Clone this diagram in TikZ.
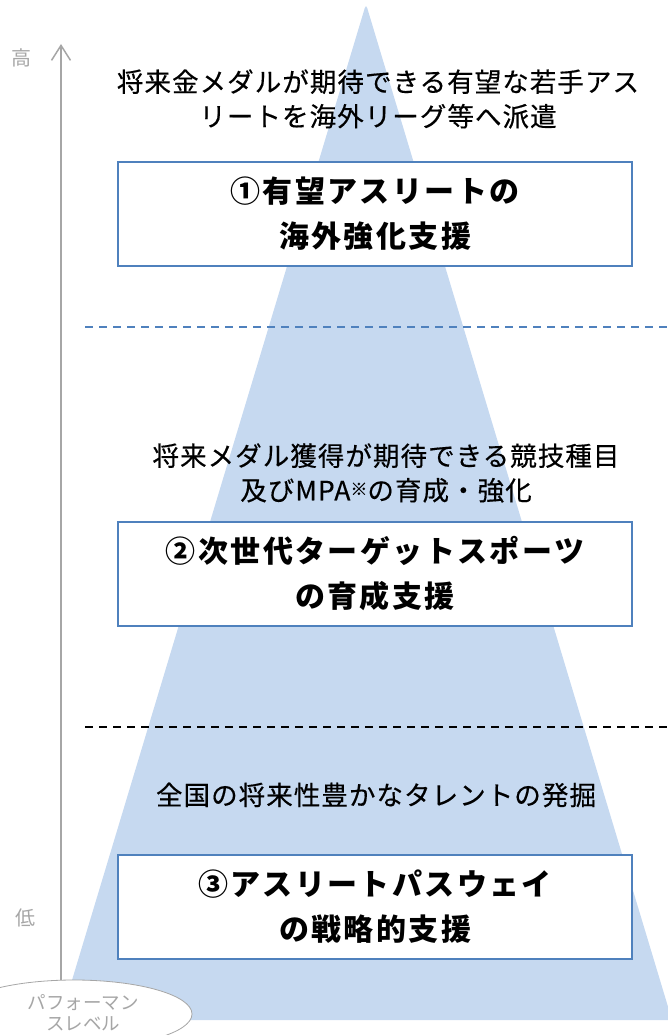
\documentclass[tikz,border=0pt]{standalone}
\usepackage{fontspec}
\usetikzlibrary{arrows.meta,shapes.geometric}
\newfontfamily\jpn[LetterSpace=4,FakeBold=0.4]{Noto Sans CJK JP}
\newfontfamily\jpbold[LetterSpace=8]{Noto Sans CJK JP}
\newfontfamily\jpgray{Noto Sans CJK JP}
\definecolor{trifill}{RGB}{198,217,240}
\definecolor{boxblue}{RGB}{79,129,189}
\definecolor{axisgray}{RGB}{166,166,166}
\tikzset{
  desc/.style={inner sep=0pt, align=center, text=black, font=\jpn\fontsize{26.5}{34.5}\selectfont},
  mainbox/.style={draw=boxblue, line width=1.8pt, fill=white, minimum width=514pt, minimum height=104pt, inner sep=0pt, align=center, font=\jpbold\bfseries\fontsize{30}{45}\selectfont},
  sep/.style={line width=1.8pt, dash pattern=on 8pt off 6pt},
  axislabel/.style={inner sep=0pt, text=axisgray, font=\jpgray\fontsize{20}{22}\selectfont},
}
\begin{document}
\begin{tikzpicture}[x=1pt,y=-1pt]
\useasboundingbox (0,0) rectangle (668,1035);
\begin{scope}
\clip (0,0) rectangle (668,1035);
% pyramid
\fill[trifill, rounded corners=4pt] (366,4) -- (672,1020) -- (60,1020) -- cycle;
% separators
\coordinate (s1a) at (85,327); \coordinate (s1b) at (668,327);
\coordinate (s2a) at (85,727); \coordinate (s2b) at (668,727);
\draw[sep, draw=boxblue] (s1a) -- (s1b);
\draw[sep, draw=black] (s2a) -- (s2b);
% performance level ellipse
\node[ellipse, draw=axisgray, line width=0.8pt, fill=white, minimum width=236pt, minimum height=68pt, inner sep=0pt] (perf) at (74,1014) {};
\node[axislabel, align=center, font=\jpgray\fontsize{18.5}{21}\selectfont] (perfl) at (83,1013) {パフォーマン\\スレベル};
\end{scope}
% axis
\coordinate (axtop) at (61,44);
\draw[axisgray, line width=1.5pt, -{Straight Barb[length=15pt, width=19pt, line width=1.5pt]}] (perf.north -| axtop) -- (axtop);
\node[axislabel] (hi) at (22,58) {高};
\node[axislabel] (lo) at (25,918) {低};
% level 1
\node[desc] (t1) at (378,99) {将来金メダルが期待できる有望な若手アス\\リートを海外リーグ等へ派遣};
\node[mainbox] (b1) at (375,214) {①有望アスリートの\\海外強化支援};
% level 2
\node[desc] (t2) at (386,473) {将来メダル獲得が期待できる競技種目\\及びMPA{\fontsize{17}{17}\selectfont\raisebox{5pt}{※}}の育成・強化};
\node[mainbox] (b2) at (375,574) {②次世代ターゲットスポーツ\\の育成支援};
% level 3
\node[desc] (t3) at (376,795) {全国の将来性豊かなタレントの発掘};
\node[mainbox] (b3) at (375,907) {③アスリートパスウェイ\\の戦略的支援};
\end{tikzpicture}
\end{document}
